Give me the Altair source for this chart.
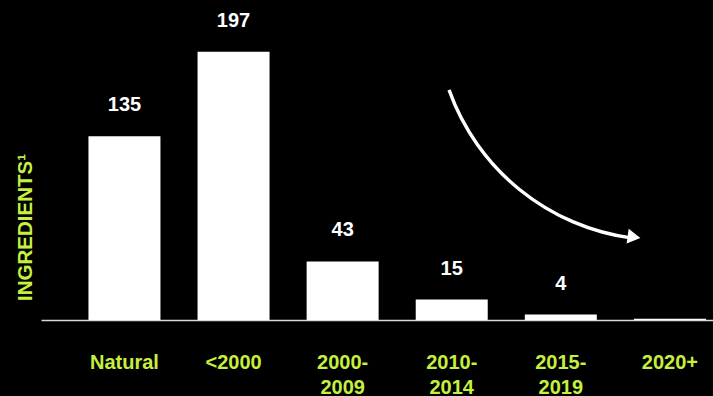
import altair as alt
import pandas as pd

categories = ["Natural", "<2000", "2000-2009", "2010-2014", "2015-2019", "2020+"]
values = [135, 197, 43, 15, 4, 1]
value_labels = ["135", "197", "43", "15", "4", ""]

LIME = "#c6ef3f"
FONT = "Liberation Sans"
df = pd.DataFrame({"cat": categories, "val": values, "lab": value_labels})

x = alt.X("cat:N", sort=categories,
          scale=alt.Scale(paddingInner=0.34, paddingOuter=0.25, align=0.87),
          axis=alt.Axis(title=None, labelAngle=0, labelColor=LIME, labelFont=FONT,
                        labelFontWeight="bold", labelFontSize=20, labelPadding=32,
                        labelLineHeight=25, ticks=False, domainColor="#d8d8d8", domainWidth=1.5,
                        labelExpr="length(datum.label) == 9 ? [slice(datum.label,0,5), slice(datum.label,5)] : datum.label"))
y = alt.Y("val:Q", scale=alt.Scale(domain=[0, 235], nice=False),
          axis=alt.Axis(title="INGREDIENTS¹", labels=False, ticks=False, domain=False, grid=False,
                        titleColor=LIME, titleFont=FONT, titleFontWeight="bold",
                        titleFontSize=20.5, titleAngle=270, titleX=-16, titleY=227,
                        titleAlign="center", titleBaseline="middle"))

base = alt.Chart(df)
bars = base.mark_bar(color="white").encode(x=x, y=y)
text = base.mark_text(color="white", font=FONT, fontWeight="bold", fontSize=20,
                      baseline="alphabetic", dy=-25).encode(x=x, y=y, text="lab:N")

one = alt.Data(values=[{"a": 1}])
arc = alt.Chart(one).mark_arc(color="white", radius=227.8, radius2=224.4,
                              theta=3.274, theta2=4.37).encode(x=alt.value(621), y=alt.value(14))
head = alt.Chart(one).mark_point(shape="triangle-right", filled=True, size=220, angle=8,
                                 color="white", opacity=1).encode(x=alt.value(593), y=alt.value(237))

chart = alt.layer(bars, text, arc, head).properties(
    width=672, height=320, background="black",
    autosize=alt.AutoSizeParams(type="none"),
    padding={"left": 41, "top": 0, "right": 0, "bottom": 76},
).configure_view(stroke=None)

chart.save("out.html", embed_options={"renderer": "svg", "actions": False})
